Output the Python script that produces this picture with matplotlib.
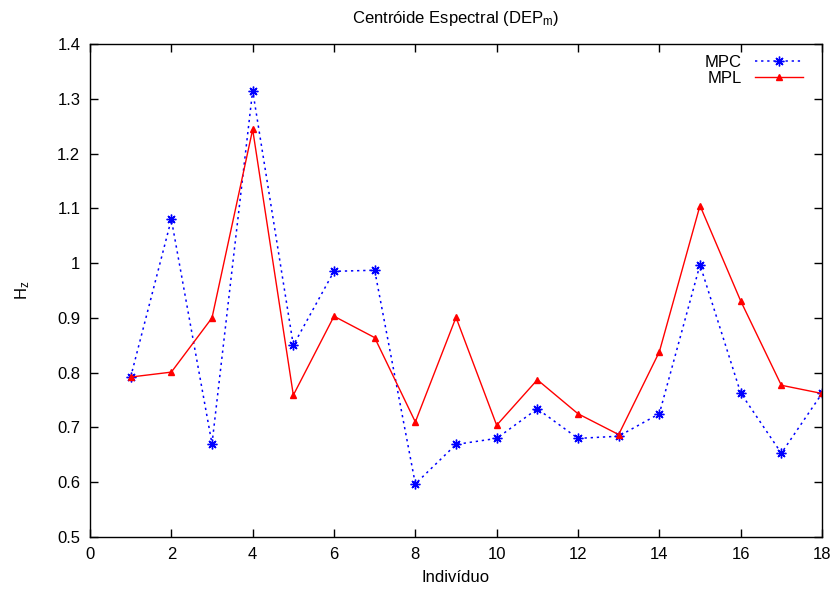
import matplotlib
matplotlib.use("Agg")
import matplotlib.pyplot as plt
from matplotlib.ticker import MultipleLocator, FormatStrFormatter

plt.rcParams['font.family'] = ['Liberation Sans', 'DejaVu Sans']
plt.rcParams['mathtext.fontset'] = 'custom'
plt.rcParams['mathtext.rm'] = 'Liberation Sans'
plt.rcParams['mathtext.it'] = 'Liberation Sans'

individuos = list(range(1, 19))
mpc = [0.792, 1.080, 0.670, 1.315, 0.850, 0.985, 0.987, 0.597, 0.669,
       0.680, 0.734, 0.680, 0.684, 0.725, 0.997, 0.763, 0.653, 0.762]
mpl = [0.792, 0.801, 0.900, 1.244, 0.759, 0.903, 0.864, 0.710, 0.901,
       0.704, 0.787, 0.725, 0.687, 0.838, 1.105, 0.931, 0.777, 0.762]

fig = plt.figure(figsize=(8.36, 5.89), dpi=100)
ax = fig.add_axes([90 / 836, 52 / 589, 732 / 836, 493 / 589])

ax.plot(individuos, mpc, color='blue', linestyle=(0, (1.5, 2.5)), linewidth=1.1,
        marker=(8, 2, 0), markersize=7, markeredgewidth=1, label='MPC')
ax.plot(individuos, mpl, color='red', linestyle='-', linewidth=1,
        marker='^', markersize=5, label='MPL')

ax.set_xlim(0, 18)
ax.set_ylim(0.5, 1.4)
ax.xaxis.set_major_locator(MultipleLocator(2))
ax.yaxis.set_major_locator(MultipleLocator(0.1))
ax.yaxis.set_major_formatter(FormatStrFormatter('%g'))
ax.tick_params(axis='x', direction='in', length=6, width=1, top=True,
               labelsize=12, pad=7)
ax.tick_params(axis='y', direction='in', length=6, width=1, right=True,
               labelsize=12, pad=7)
for s in ax.spines.values():
    s.set_linewidth(1)

ax.set_title('Centróide Espectral (DEP$_\\mathrm{m}$)', fontsize=12, pad=15)
ax.set_xlabel('Indivíduo', fontsize=12, labelpad=6)
ax.set_ylabel('H$_\\mathrm{z}$', fontsize=12, labelpad=18)

ax.legend(loc='upper right', bbox_to_anchor=(1 - 8 / 732, 1), frameon=False,
          markerfirst=False, fontsize=12, handlelength=2.9,
          borderaxespad=0.25, labelspacing=0.05)

fig.savefig('out.png', dpi=100)
